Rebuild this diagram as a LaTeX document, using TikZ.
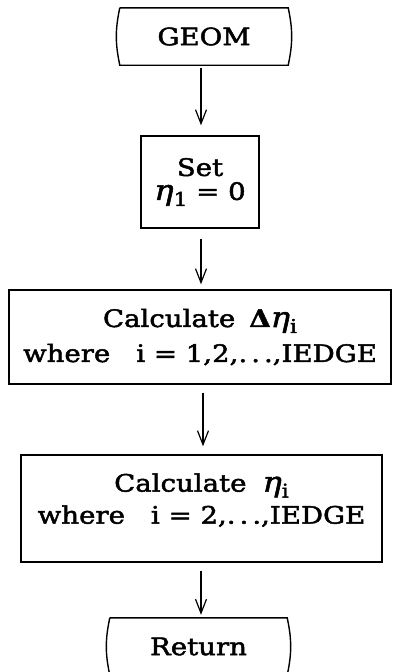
\documentclass[tikz,border=0pt]{standalone}
\usepackage{fontspec}
\setmainfont{DejaVu Serif}[FakeStretch=1.15, FakeBold=2]
\usetikzlibrary{arrows.meta}
\newcommand{\myeta}{{\itshape\fontsize{28}{34}\selectfont η}}
\newcommand{\mysub}[1]{\raisebox{-6pt}{\fontsize{19}{19}\selectfont #1}}
\tikzset{
  txt/.style={font=\fontsize{24}{35}\selectfont},
  flowbox/.style={txt, draw, line width=1.4pt, inner sep=0pt, align=center},
  termbox/.style={txt, inner sep=0pt},
  termline/.style={line width=1.4pt},
  flowarrow/.style={line width=1.2pt, -{Straight Barb[length=14pt,width=11pt]}},
}
\begin{document}
\begin{tikzpicture}[x=1pt,y=-1pt]
\useasboundingbox (0,0) rectangle (393,672);
% nodes
\node[termbox, minimum width=168pt, minimum height=57pt] (geom) at (204,36.5) {GEOM};
\draw[termline] (geom.north west) -- (geom.north east) to[bend left=12] (geom.south east)
  -- (geom.south west) to[bend left=12] (geom.north west);
\node[flowbox, minimum width=118pt, minimum height=92pt] (set) at (200,182)
  {Set\\[-11pt]\myeta\mysub{1} = 0};
\node[flowbox, minimum width=382pt, minimum height=94pt] (dcalc) at (200,337)
  {Calculate\hspace{14pt}{\bfseries Δ}\myeta\mysub{i}\\where\hspace{26pt}i = 1,2,.\,.\,.,IEDGE};
\node[flowbox, minimum width=361pt, minimum height=107pt, text depth=20pt] (calc) at (201.5,508.5)
  {Calculate\hspace{16pt}\myeta\mysub{i}\\[-3pt]where\hspace{26pt}i = 2,.\,.\,.,IEDGE};
\node[termbox, minimum width=177pt, minimum height=57pt] (ret) at (198.5,646.5) {Return};
\draw[termline] (ret.north west) -- (ret.north east) to[bend left=12] (ret.south east)
  -- (ret.south west) to[bend left=12] (ret.north west);
% arrows
\coordinate (ax1) at (201,0);
\coordinate (ax3) at (203,0);
\draw[flowarrow, shorten <=3pt, shorten >=10pt] (ax1 |- geom.south) -- (ax1 |- set.north);
\draw[flowarrow, shorten <=10pt, shorten >=5pt] (ax1 |- set.south) -- (ax1 |- dcalc.north);
\draw[flowarrow, shorten <=8pt, shorten >=8pt] (ax3 |- dcalc.south) -- (ax3 |- calc.north);
\draw[flowarrow, shorten <=8pt, shorten >=3pt] (ax1 |- calc.south) -- (ax1 |- ret.north);
\end{tikzpicture}
\end{document}
